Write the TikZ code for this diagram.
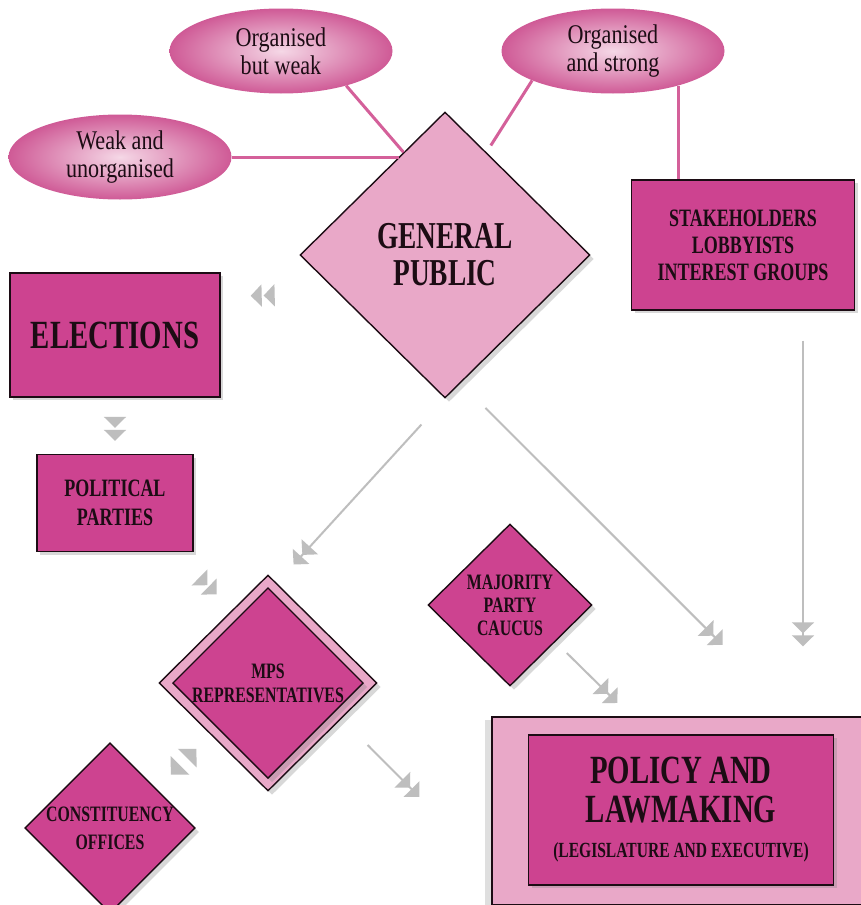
\documentclass[tikz,border=0pt]{standalone}
\usepackage{xcolor}
\usepackage{fontspec}
\usepackage{tikz}
\usetikzlibrary{shapes, arrows.meta, shadows}
\newfontfamily\boxfont[FakeStretch=0.72]{Liberation Serif}
\newfontfamily\ovalfont[FakeStretch=0.82]{Liberation Serif}
\definecolor{magbox}{HTML}{CD4390}
\definecolor{pinklt}{HTML}{E9A8C8}
\definecolor{pinkrim}{HTML}{CF5A96}
\definecolor{pinkline}{HTML}{D4609A}
\definecolor{arrowgray}{HTML}{BEBEBE}
\definecolor{inkdark}{HTML}{1C0C14}

\begin{document}
\begin{tikzpicture}[x=1pt, y=-1pt,
    oval/.style={ellipse, inner sep=0pt, minimum width=223pt, minimum height=85pt, inner color=pinklt!45!white, outer color=pinkrim, text=inkdark, align=center, font=\ovalfont\fontsize{27}{28}\selectfont},
    plate/.style={rectangle, fill=magbox, draw=inkdark, line width=1.4pt, text=inkdark, align=center, inner sep=0pt, drop shadow={shadow xshift=3pt, shadow yshift=-3pt, opacity=.3}},
    gem/.style={diamond, fill=magbox, draw=inkdark, line width=1.4pt, text=inkdark, align=center, inner sep=0pt, drop shadow={shadow xshift=4pt, shadow yshift=-4pt, opacity=.3}},
    link/.style={draw=pinkline, line width=3pt},
    flow/.style={draw=arrowgray, line width=2pt, -{Triangle[width=22pt, length=11pt, sep=2pt] Triangle[width=22pt, length=11pt]}},
    ghost/.style={draw=white, line width=2pt, -{Triangle[color=arrowgray, width=22pt, length=11pt, sep=2pt] Triangle[color=arrowgray, width=22pt, length=11pt]}},
    twoway/.style={draw=white, line width=2pt, {Triangle[color=arrowgray, width=26pt, length=13pt]}-{Triangle[color=arrowgray, width=26pt, length=13pt]}}
  ]
  \path[use as bounding box, fill=white] (0,0) rectangle (860,905);

  \node[oval] (ow) at (281,51) {Organised\\but weak};
  \node[oval] (os) at (613,51) {Organised\\and strong};
  \node[oval] (wk) at (120,157) {Weak and\\unorganised};

  \node[gem, fill=pinklt, minimum width=290pt, minimum height=286pt, font=\boxfont\bfseries\fontsize{38}{37}\selectfont] (gp) at (445,255) {GENERAL\\PUBLIC};
  \node[plate, minimum width=223pt, minimum height=130pt, font=\boxfont\bfseries\fontsize{25}{27}\selectfont] (sh) at (743,245) {STAKEHOLDERS\\LOBBYISTS\\INTEREST GROUPS};
  \node[plate, minimum width=210pt, minimum height=124pt, font=\boxfont\bfseries\fontsize{40}{40}\selectfont] (el) at (115,335) {ELECTIONS};
  \node[plate, minimum width=156pt, minimum height=97pt, font=\boxfont\bfseries\fontsize{25}{29}\selectfont] (pp) at (115,503) {POLITICAL\\PARTIES};

  \node[gem, fill=pinklt, minimum width=218pt, minimum height=216pt] (mpo) at (268,683) {};
  \node[gem, drop shadow={opacity=0}, minimum width=172pt, minimum height=171pt, font=\boxfont\bfseries\fontsize{22}{24}\selectfont] (mps) at (268,683) {MPS\\REPRESENTATIVES};
  \node[gem, minimum width=164pt, minimum height=162pt, font=\boxfont\bfseries\fontsize{22}{28}\selectfont] (co) at (110,828) {CONSTITUENCY\\OFFICES};
  \node[gem, minimum width=164pt, minimum height=162pt, font=\boxfont\bfseries\fontsize{22}{23}\selectfont] (mpc) at (510,605) {MAJORITY\\PARTY\\CAUCUS};

  \node[plate, fill=pinklt, minimum width=390pt, minimum height=188pt, drop shadow={shadow xshift=-7pt, shadow yshift=-3pt, opacity=.25}] (pol) at (687,811) {};
  \node[plate, minimum width=305pt, minimum height=150pt, font=\boxfont\bfseries\fontsize{40}{39}\selectfont] (law) at (681,810) {POLICY AND\\LAWMAKING\\[-4pt]{\fontsize{21.6}{24}\selectfont(LEGISLATURE AND EXECUTIVE)}};

  \draw[link] (wk.east) -- (wk.east -| gp.115);
  \draw[link] (ow.-28) -- (gp.112);
  \draw[link, shorten >=8pt] (os.200) -- (gp.68);
  \draw[link] (os.-28) -- (os.-28 |- sh.north);

  \draw[ghost, shorten <=63pt, shorten >=30pt] (gp.200) -- (el.20);
  \draw[ghost, shorten <=18pt, shorten >=13pt] (el) -- (pp);
  \draw[ghost, shorten <=34pt, shorten >=22pt] (pp.-40) -- (mpo.116);
  \draw[twoway, shorten <=20pt, shorten >=20pt] (co.40) -- (mpo.222);

  \draw[flow, shorten <=35pt, shorten >=25pt] (gp.south) -- (mpo.85);
  \draw[flow, shorten <=35pt, shorten >=101pt] (gp.-83) -- ([xshift=107pt]pol.north);
  \draw[flow, shorten <=30pt, shorten >=70pt] ([xshift=60pt]sh.south) -- ([xshift=60pt]sh.south |- pol.north);
  \draw[flow, shorten <=16pt, shorten >=19pt] (mpc.-39) -- ([xshift=-56pt]pol.north);
  \draw[flow, shorten <=37pt, shorten >=102pt] (mpo.-26) -- ([yshift=-58pt]pol.west);
\end{tikzpicture}
\end{document}
